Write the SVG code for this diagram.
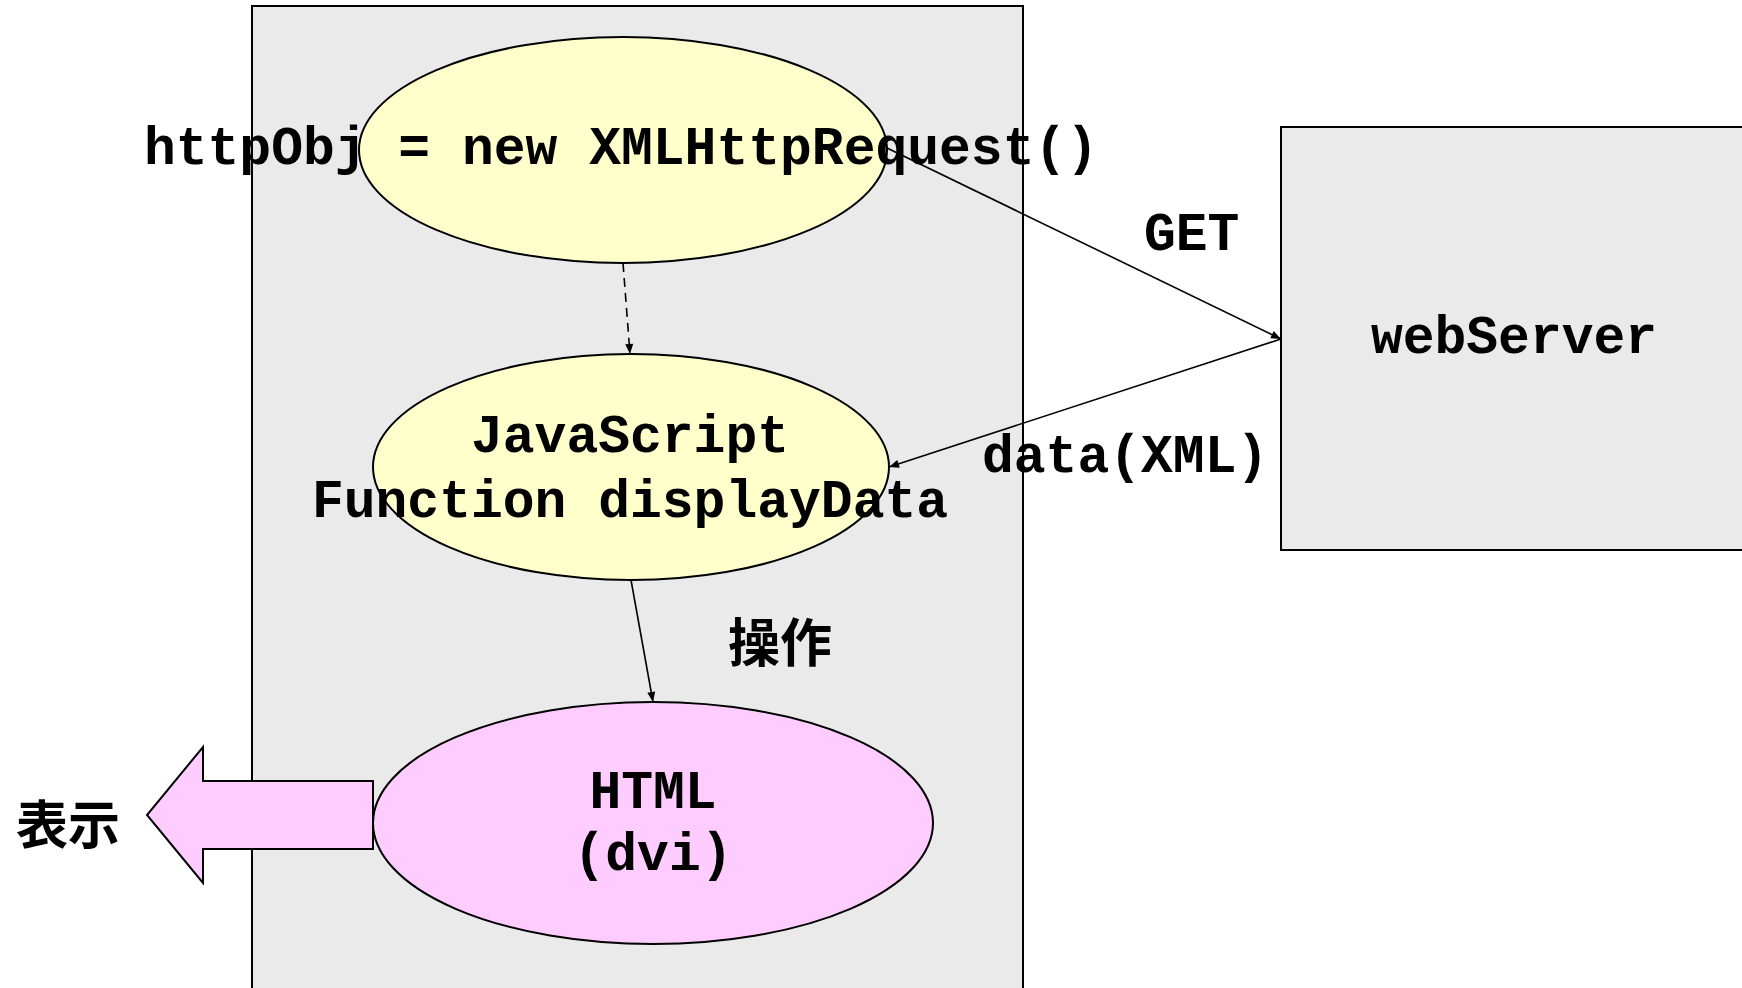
<svg xmlns="http://www.w3.org/2000/svg" width="1742" height="988" viewBox="0 0 1742 988">
<defs>
<style>
.box{fill:#EAEAEA;stroke:#000;stroke-width:2}
.yel{fill:#FFFFCC;stroke:#000;stroke-width:2}
.pink{fill:#FFCCFF;stroke:#000;stroke-width:2}
.t{font-family:"Liberation Mono","Courier New",monospace;font-weight:bold;font-size:53px;fill:#000}
.cjk{font-family:"Noto Sans CJK JP","Noto Sans CJK SC",sans-serif;font-weight:bold;font-size:52px;fill:#000}
.c{fill:none;stroke:#000;stroke-width:1.6}
</style>
<marker id="ah" viewBox="0 0 10 10" refX="10" refY="5" markerWidth="12" markerHeight="10" markerUnits="userSpaceOnUse" orient="auto">
<path d="M0,1 L10,5 L0,9 z" fill="#000"/>
</marker>
</defs>
<rect x="0" y="0" width="1742" height="988" fill="#fff"/>
<g id="browser"><rect class="box" x="252" y="6" width="771" height="1000"/></g>
<g id="webServer">
<rect class="box" x="1281" y="127" width="480" height="423"/>
<text class="t" x="1514" y="353" text-anchor="middle">webServer</text>
</g>
<g id="xhr">
<ellipse class="yel" cx="623" cy="150" rx="264" ry="113"/>
<text class="t" x="621" y="164" text-anchor="middle">httpObj = new XMLHttpRequest()</text>
</g>
<g id="jsfunc">
<ellipse class="yel" cx="631" cy="467" rx="258" ry="113"/>
<text class="t" x="630" y="452" text-anchor="middle">JavaScript</text>
<text class="t" x="630" y="517" text-anchor="middle">Function displayData</text>
</g>
<g id="html">
<ellipse class="pink" cx="653" cy="823" rx="280" ry="121"/>
<text class="t" x="653" y="808" text-anchor="middle">HTML</text>
<text class="t" x="653" y="870" text-anchor="middle">(dvi)</text>
</g>
<g id="display">
<polygon class="pink" points="373,781 203,781 203,747 147,815 203,883 203,849 373,849"/>
<text class="cjk" x="68" y="844" text-anchor="middle">表示</text>
</g>
<g id="connectors">
<line class="c" x1="887" y1="148" x2="1281" y2="339" marker-end="url(#ah)"/>
<line class="c" x1="1281" y1="339" x2="889" y2="467" marker-end="url(#ah)"/>
<line class="c" x1="623" y1="263" x2="630" y2="354" stroke-dasharray="9,6" marker-end="url(#ah)"/>
<line class="c" x1="631" y1="580" x2="653" y2="702" marker-end="url(#ah)"/>
<text class="t" x="1144" y="250">GET</text>
<text class="t" x="982" y="472">data(XML)</text>
<text class="cjk" x="780" y="662" text-anchor="middle">操作</text>
</g>
</svg>
